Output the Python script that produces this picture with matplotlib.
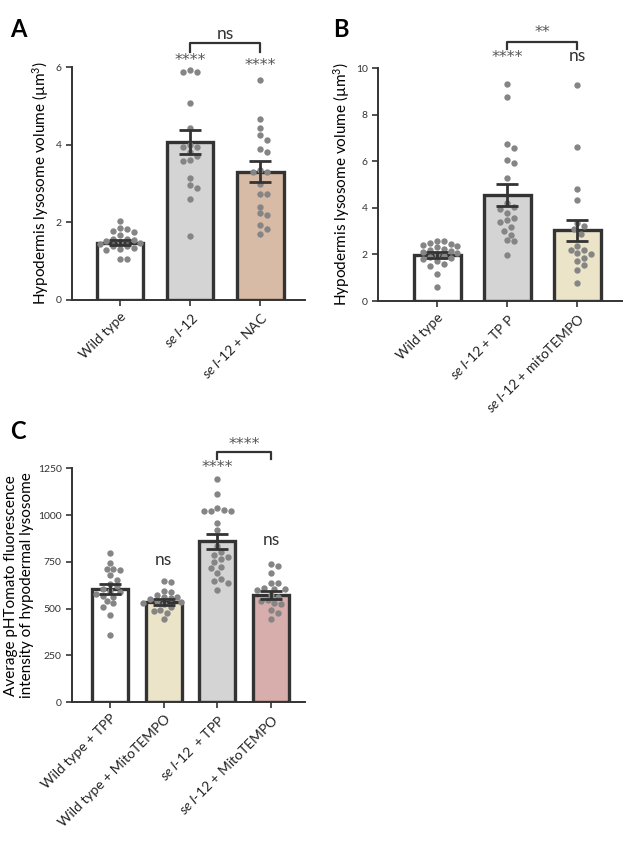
import numpy as np
import matplotlib.pyplot as plt

plt.rcParams['font.family'] = ['Lato', 'DejaVu Sans']
plt.rcParams['mathtext.fontset'] = 'custom'
plt.rcParams['mathtext.rm'] = 'Lato'
plt.rcParams['mathtext.it'] = 'Lato:italic'

SEL = r'$\mathit{se\ l}$-$\mathit{12}$'

# Panel A: hypodermis lysosome volume
a_labels = ['Wild type', SEL, SEL + ' + NAC']
a_wt = [2.04, 1.86, 1.82, 1.78, 1.75, 1.68, 1.58, 1.56, 1.55, 1.52, 1.50, 1.48,
        1.45, 1.40, 1.38, 1.35, 1.32, 1.30, 1.05, 1.05]
a_sel = [5.92, 5.87, 5.87, 5.08, 4.42, 4.00, 3.95, 3.93, 3.82, 3.72, 3.60, 3.58,
         3.15, 2.96, 2.88, 2.60, 1.66]
a_nac = [5.67, 4.67, 4.44, 4.25, 4.13, 3.90, 3.80, 3.35, 3.30, 3.30, 3.00, 2.74,
         2.74, 2.40, 2.23, 2.19, 1.93, 1.84, 1.70]
a_means = [1.48, 4.07, 3.30]
a_sems = [0.07, 0.31, 0.27]

# Panel B: hypodermis lysosome volume
b_labels = ['Wild type', SEL + ' + TP P', SEL + ' + mitoTEMPO']
b_wt = [2.60, 2.58, 2.50, 2.45, 2.42, 2.35, 2.30, 2.25, 2.20, 2.15, 2.10, 2.05,
        2.00, 1.95, 1.90, 1.85, 1.80, 1.70, 1.60, 1.50, 1.15, 0.62]
b_tpp = [9.33, 8.76, 6.73, 6.57, 6.07, 5.93, 5.29, 4.20, 4.05, 3.97, 3.76, 3.55,
         3.47, 3.40, 3.20, 3.00, 2.85, 2.61, 2.59, 1.98]
b_mito = [9.26, 6.61, 4.80, 4.33, 3.36, 3.22, 3.10, 2.90, 2.35, 2.20, 2.18, 2.05,
          2.03, 1.85, 1.70, 1.55, 1.35, 0.78]
b_means = [1.98, 4.55, 3.03]
b_sems = [0.12, 0.47, 0.47]

# Panel C: pHTomato fluorescence
c_labels = ['Wild type + TPP', 'Wild type + MitoTEMPO', SEL + '  + TPP', SEL + ' + MitoTEMPO']
c_wt_tpp = [800, 745, 715, 710, 705, 680, 655, 630, 620, 605, 595, 590, 580, 570,
            565, 540, 530, 510, 465, 362]
c_wt_mt = [650, 645, 595, 590, 575, 565, 560, 555, 550, 540, 535, 530, 525, 510,
           495, 488, 475, 445]
c_sel_tpp = [1192, 1112, 1038, 1028, 1025, 1022, 1020, 958, 920, 835, 805, 788,
             778, 765, 750, 725, 716, 690, 660, 650, 636, 602]
c_sel_mt = [740, 730, 690, 638, 635, 610, 608, 605, 600, 575, 565, 545, 540, 530,
            525, 495, 475, 445]
c_means = [605, 535, 860, 572]
c_sems = [25, 15, 42, 22]

EDGE = '#333333'
DOT = '#858585'
STAR = dict(ha='center', va='center', fontsize=11.5, color='#555555', family='DejaVu Sans')
NS = dict(ha='center', va='center', fontsize=12.5, color='#333333')


def swarm(ax, center, values, dia=6.8):
    # simple beeswarm in pixel space
    tr = ax.transData
    pts = tr.transform(np.column_stack([np.full(len(values), center), values]))
    cx = pts[0, 0]
    placed = []
    for py in pts[:, 1]:
        k = 0
        while True:
            offs = [0.0] if k == 0 else [k * dia * 0.5, -k * dia * 0.5]
            done = False
            for o in offs:
                px = cx + o
                if all((px - qx) ** 2 + (py - qy) ** 2 >= (dia * 0.95) ** 2 for qx, qy in placed):
                    placed.append((px, py))
                    done = True
                    break
            if done:
                break
            k += 1
    return tr.inverted().transform(np.array(placed))


def panel(ax, groups, means, sems, colors, labels, ylim, yticks, xlim):
    ax.set_xlim(*xlim)
    ax.set_ylim(*ylim)
    x = np.arange(len(groups))
    ax.bar(x, means, width=0.67, color=colors, edgecolor=EDGE, linewidth=2.4, zorder=1)
    for i, vals in enumerate(groups):
        xy = swarm(ax, i, vals)
        ax.scatter(xy[:, 0], xy[:, 1], s=21, color=DOT, zorder=3, linewidths=0, clip_on=False)
    ax.errorbar(x, means, yerr=sems, fmt='none', ecolor=EDGE, elinewidth=2,
                capsize=8, capthick=2, zorder=4)
    ax.set_yticks(yticks)
    ax.set_xticks(x)
    ax.set_xticklabels(labels, rotation=45, ha='right', rotation_mode='anchor', fontsize=10)
    for s in ['top', 'right']:
        ax.spines[s].set_visible(False)
    for s in ['left', 'bottom']:
        ax.spines[s].set_color(EDGE)
        ax.spines[s].set_linewidth(1.4)
    ax.spines['left'].set_bounds(ylim[0], yticks[-1])
    ax.tick_params(axis='both', colors=EDGE, width=1.2, length=4, labelsize=7.5)
    ax.tick_params(axis='x', labelsize=10, labelcolor='#222222')


def bracket(ax, x1, x2, y, drop, txt, ty, style):
    ax.plot([x1, x1, x2, x2], [y - drop, y, y, y - drop], color=EDGE, lw=1.6, clip_on=False)
    ax.text((x1 + x2) / 2, ty, txt, **style)


fig = plt.figure(figsize=(6.26, 8.41), dpi=100)

axA = fig.add_axes([0.115, 0.6433, 0.372, 0.277])
panel(axA, [a_wt, a_sel, a_nac], a_means, a_sems, ['white', '#d4d4d4', '#d8bba6'],
      a_labels, (0, 6), [0, 2, 4, 6], (-0.686, 2.64))
axA.set_ylabel('Hypodermis lysosome volume (µm$^3$)', fontsize=11, labelpad=3)
axA.text(1, 6.16, '****', **STAR)
axA.text(2, 6.03, '****', **STAR)
bracket(axA, 1, 2, 6.61, 0.22, 'ns', 6.86, NS)

axB = fig.add_axes([0.604, 0.642, 0.390, 0.277])
panel(axB, [b_wt, b_tpp, b_mito], b_means, b_sems, ['white', '#d4d4d4', '#ebe4c9'],
      b_labels, (0, 10), [0, 2, 4, 6, 8, 10], (-0.84, 2.64))
axB.set_ylabel('Hypodermis lysosome volume (µm$^3$)', fontsize=11, labelpad=3)
axB.text(1, 10.45, '****', **STAR)
axB.text(2, 10.5, 'ns', **NS)
bracket(axB, 1, 2, 11.11, 0.28, '**', 11.52, STAR)

axC = fig.add_axes([0.115, 0.165, 0.372, 0.278])
panel(axC, [c_wt_tpp, c_wt_mt, c_sel_tpp, c_sel_mt], c_means, c_sems,
      ['white', '#ebe4c9', '#d4d4d4', '#d7aeab'], c_labels,
      (0, 1250), [0, 250, 500, 750, 1000, 1250], (-0.71, 3.63))
axC.set_ylabel('Average pHTomato fluorescence\nintensity of hypodermal lysosome',
               fontsize=11, labelpad=3, linespacing=1.15)
axC.text(2, 1257, '****', **STAR)
axC.text(1, 762, 'ns', **NS)
axC.text(3, 869, 'ns', **NS)
bracket(axC, 2, 3, 1339, 36, '****', 1380, STAR)

fig.text(0.016, 0.965, 'A', fontsize=17, fontweight='bold', va='center')
fig.text(0.532, 0.965, 'B', fontsize=17, fontweight='bold', va='center')
fig.text(0.016, 0.487, 'C', fontsize=17, fontweight='bold', va='center')

fig.savefig('out.png', dpi=100)
